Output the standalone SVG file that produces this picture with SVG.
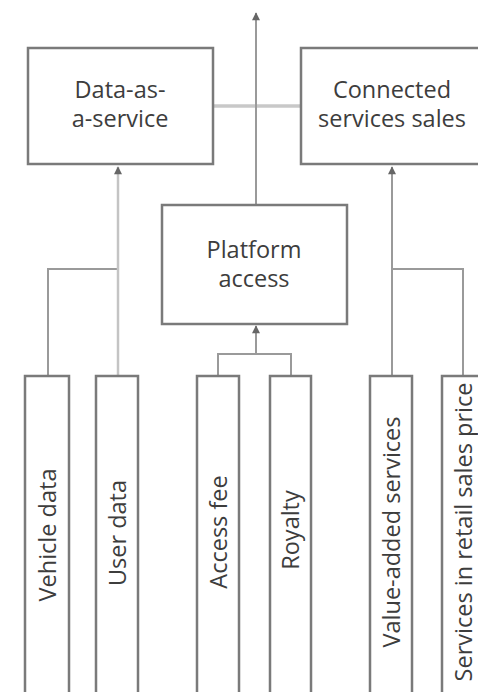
<svg xmlns="http://www.w3.org/2000/svg" width="478" height="692" viewBox="0 0 478 692">
<defs>
<style>
.box{fill:#fff;stroke:#7a7a7a;stroke-width:2.5}
.t{font-family:"Open Sans","Noto Sans",sans-serif;font-size:23.5px;fill:#3d3d3d;text-anchor:middle}
.c{fill:none;stroke:#9a9a9a;stroke-width:2}
.cl{fill:none;stroke:#c4c4c4;stroke-width:2.5}
.ch{fill:none;stroke:#c8c8c8;stroke-width:3.5}
</style>
<marker id="ah" viewBox="0 0 10 10" refX="9" refY="5" markerWidth="9" markerHeight="8" markerUnits="userSpaceOnUse" orient="auto">
<path d="M0,0 L10,5 L0,10 z" fill="#666"/>
</marker>
</defs>
<rect width="478" height="692" fill="#fff"/>
<g id="connectors">
<line class="ch" x1="213" y1="106" x2="301" y2="106"/>
<line class="c" x1="256" y1="205" x2="256" y2="13" marker-end="url(#ah)"/>
<polyline class="c" points="48,376 48,269 118,269"/>
<line class="cl" x1="118" y1="376" x2="118" y2="167" marker-end="url(#ah)"/>
<polyline class="c" points="463,376 463,269 392,269"/>
<line class="c" x1="392" y1="376" x2="392" y2="167" marker-end="url(#ah)"/>
<polyline class="c" points="218,376 218,354 291,354 291,376"/>
<line class="c" x1="256" y1="354" x2="256" y2="326" marker-end="url(#ah)"/>
</g>
<g id="data-as-a-service">
<rect class="box" x="28" y="48" width="185" height="116"/>
<text class="t" x="120" y="98">Data-as-</text>
<text class="t" x="120" y="127">a-service</text>
</g>
<g id="connected-services-sales">
<rect class="box" x="301" y="48" width="190" height="116"/>
<text class="t" x="392" y="98">Connected</text>
<text class="t" x="392" y="127">services sales</text>
</g>
<g id="platform-access">
<rect class="box" x="162" y="205" width="185" height="119"/>
<text class="t" x="254" y="258">Platform</text>
<text class="t" x="254" y="287">access</text>
</g>
<g id="vehicle-data">
<rect class="box" x="25" y="376" width="44" height="330"/>
<text class="t" transform="translate(55.5,535) rotate(-90)">Vehicle data</text>
</g>
<g id="user-data">
<rect class="box" x="96" y="376" width="42" height="330"/>
<text class="t" transform="translate(125.5,533) rotate(-90)">User data</text>
</g>
<g id="access-fee">
<rect class="box" x="197" y="376" width="42" height="330"/>
<text class="t" transform="translate(226.5,532) rotate(-90)">Access fee</text>
</g>
<g id="royalty">
<rect class="box" x="270" y="376" width="41" height="330"/>
<text class="t" transform="translate(299,530) rotate(-90)">Royalty</text>
</g>
<g id="value-added-services">
<rect class="box" x="370" y="376" width="42" height="330"/>
<text class="t" transform="translate(399.5,532) rotate(-90)">Value-added services</text>
</g>
<g id="services-in-retail-sales-price">
<rect class="box" x="442" y="376" width="50" height="330"/>
<text class="t" transform="translate(472,532) rotate(-90)">Services in retail sales price</text>
</g>
</svg>
